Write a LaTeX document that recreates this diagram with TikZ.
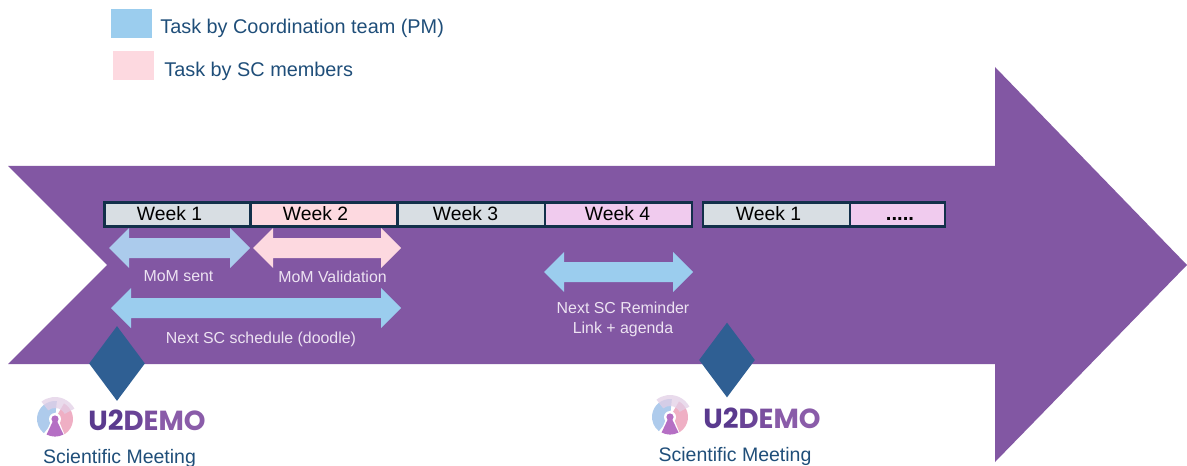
\documentclass[tikz,border=0pt]{standalone}
\usepackage{fontspec}
\setmainfont{Liberation Sans}
\newfontfamily\logofont{Poppins}
\usepackage{tikz}
\usetikzlibrary{shapes.geometric}
\definecolor{bandpurple}{HTML}{8257A3}
\definecolor{meetblue}{HTML}{2F5F93}
\definecolor{pmblue}{HTML}{9BCDEE}
\definecolor{scpink}{HTML}{FDD9E0}
\definecolor{weekgrey}{HTML}{D8DEE3}
\definecolor{weeklilac}{HTML}{F0CBEE}
\definecolor{barnavy}{HTML}{12304A}
\definecolor{inknavy}{HTML}{1F4E79}
\definecolor{noteink}{HTML}{EDE3F2}
\definecolor{lilacTop}{HTML}{E2CFE6}
\definecolor{logoBlue}{HTML}{AECBEC}
\definecolor{logoPink}{HTML}{EFAFC4}
\definecolor{logoKey}{HTML}{B56FC4}
\definecolor{logoInkA}{HTML}{5A3A8E}
\definecolor{logoInkB}{HTML}{6A4497}
\definecolor{logoInkC}{HTML}{7A4F9F}
\definecolor{logoInkD}{HTML}{8A5CA9}
\tikzset{
	weekbox/.style={draw=barnavy, line width=0.55mm, rectangle, inner sep=0pt, minimum height=0.47cm, text=black},
	weektext/.style={inner sep=0pt, text=black, font=\fontsize{11}{12}\selectfont},
	notetext/.style={text=noteink, font=\fontsize{9.05}{11.4}\selectfont, align=center, inner sep=0pt},
	keytext/.style={text=inknavy, font=\fontsize{11.3}{13}\selectfont, anchor=west, inner sep=0pt},
	meettext/.style={text=inknavy, font=\fontsize{11.1}{13}\selectfont, inner sep=0pt},
	meeting/.style={diamond, fill=meetblue, inner sep=0pt, minimum width=1.12cm, minimum height=1.5cm}
}
\def\twoway[#1](#2,#3,#4){\fill[#1] (#2,#4) -- ({#2+20},{#4-20}) -- ({#2+20},{#4-10}) -- ({#3-20},{#4-10}) -- ({#3-20},{#4-20}) -- (#3,#4) -- ({#3-20},{#4+20}) -- ({#3-20},{#4+10}) -- ({#2+20},{#4+10}) -- ({#2+20},{#4+20}) -- cycle;}
\def\sector[#1](#2:#3:#4:#5){\fill[#1] (#2:#5) arc (#2:#3:#5) -- (#3:#4) arc (#3:#2:#4) -- cycle;}
\def\logomark(#1,#2)#3{
	\begin{scope}[shift={(#1,#2)}]
		\sector[color=logoBlue](-84:-232:1:18);
		\sector[color=logoPink](-60:58:1:18);
		\sector[color=lilacTop, opacity=0.75](-128:-28:11:22);
		\fill[white] (0,0) circle (6);
		\fill[white] (-4,2) -- (4,2) -- (10,17) -- (-10,17) -- cycle;
		\fill[color=logoKey] (0,0) circle (3.6);
		\fill[color=logoKey] (-2,2) -- (2,2) -- (8.5,15.5) arc (62:118:18) -- cycle;
		\node[anchor=west, inner sep=0pt, font=\logofont\bfseries\fontsize{15.7}{16}\selectfont] (#3) at (33,1) {\textcolor{logoInkA}{U2}\textcolor{logoInkB}{D}\textcolor{logoInkC}{E}\textcolor{logoInkD}{MO}};
	\end{scope}
}

\begin{document}
\begin{tikzpicture}[x=0.02cm, y=-0.02cm]
		%%%%% key %%%%%
		\useasboundingbox (0, 0) rectangle (1187, 466);
		
		\fill[color=pmblue] (111, 9) rectangle (152, 38);
		\node[keytext] (keypm) at (160, 28.5) {Task by Coordination team (PM)};
		\fill[color=scpink] (113, 51) rectangle (154, 80);
		\node[keytext] (keysc) at (164, 71.5) {Task by SC members};
		
		%%%%% band %%%%%
		\fill[color=bandpurple] (8, 166) -- (995, 166) -- (995, 67) -- (1187, 265) -- (995, 462) -- (995, 364) -- (8, 364) -- (107, 265) -- cycle;
		
		%%%%% weeks %%%%%
		\node[weekbox, fill=weekgrey, minimum width=2.93cm] (weekA) at (177.5, 214.5) {};
		\node[weekbox, fill=scpink, minimum width=2.95cm] (weekB) at (324.5, 214.5) {};
		\node[weekbox, fill=weekgrey, minimum width=2.95cm] (weekC) at (471.5, 214.5) {};
		\node[weekbox, fill=weeklilac, minimum width=2.94cm] (weekD) at (618.5, 214.5) {};
		\node[weekbox, fill=weekgrey, minimum width=2.94cm] (weekE) at (776.5, 214.5) {};
		\node[weekbox, fill=weeklilac, minimum width=1.9cm] (weekF) at (897.5, 214.5) {};
		
		\node[weektext] (textA) at (169.5, 214) {Week 1};
		\node[weektext] (textB) at (315.5, 214) {Week 2};
		\node[weektext] (textC) at (465.5, 214) {Week 3};
		\node[weektext] (textD) at (617.5, 214) {Week 4};
		\node[weektext] (textE) at (768.5, 214) {Week 1};
		\node[weektext, anchor=base, font=\bfseries\fontsize{11.5}{12}\selectfont] (textF) at (900, 220) {.....};
		
		%%%%% tasks %%%%%
		\twoway[color=logoBlue!85!pmblue](109,250,248);
		\twoway[color=scpink](253,401,248);
		\twoway[color=pmblue](111,401,308);
		\twoway[color=pmblue](544,693,272);
		
		\node[notetext] (sent) at (178.5, 276) {MoM sent};
		\node[notetext] (valid) at (332.5, 277) {MoM Validation};
		\node[notetext] (sched) at (261, 339) {Next SC schedule (doodle)};
		\node[notetext] (remind) at (623, 319) {Next SC Reminder\\Link + agenda};
		
		%%%%% meetings %%%%%
		\node[meeting] (meetA) at (117, 363.5) {};
		\node[meeting] (meetB) at (727, 360) {};
		
		\logomark(55,419){logoA}
		\logomark(670,417){logoB}
		\node[meettext] (scimA) at (119.5, 458) {Scientific Meeting};
		\node[meettext] (scimB) at (735, 456) {Scientific Meeting};
		
		%%%%% END %%%%%
\end{tikzpicture}
\end{document}
